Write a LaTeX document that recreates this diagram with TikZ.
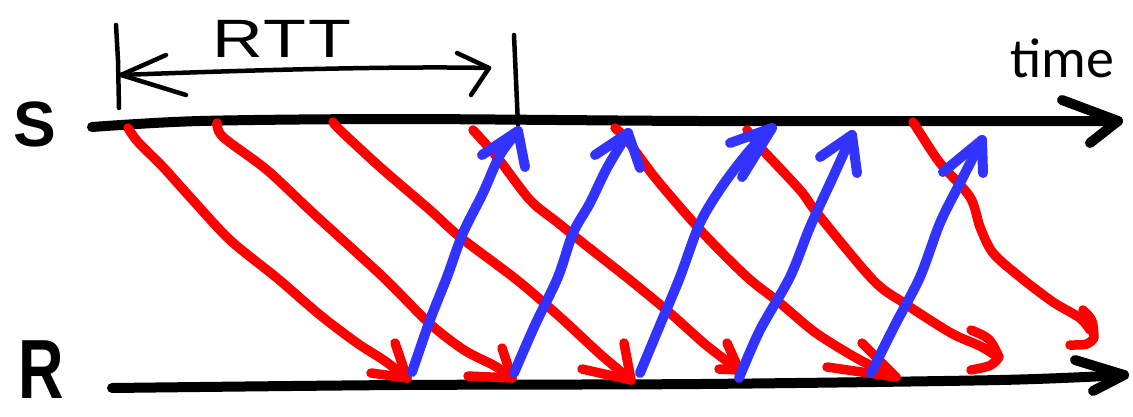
\documentclass[tikz,border=0pt]{standalone}
\usepackage{fontspec}
\newfontfamily\timefont{Carlito}
\newfontfamily\handfont{Liberation Sans}
\newfontfamily\handfontR[FakeStretch=0.75]{Liberation Sans}
\definecolor{penblue}{RGB}{51,51,255}
\definecolor{penred}{RGB}{255,0,0}
\tikzset{
  axisline/.style={line width=10pt, line cap=round, line join=round, black},
  thinline/.style={line width=4.5pt, line cap=round, line join=round, black},
  redpen/.style={line width=9.5pt, penred, line cap=round, line join=round},
  bluepen/.style={line width=10pt, penblue, line cap=round, line join=round},
}
\begin{document}
\begin{tikzpicture}[x=1pt,y=-1pt]
\useasboundingbox (0,0) rectangle (1133,416);

% labels
\node[font=\handfont\bfseries\fontsize{64}{64}\selectfont, inner sep=0, anchor=base] (S) at (35,146) {S};
\node[font=\handfontR\bfseries\fontsize{84}{84}\selectfont, inner sep=0, anchor=base] (R) at (41,398) {R};
\node[font=\timefont\fontsize{56}{56}\selectfont, inner sep=0, anchor=base] (time) at (1062,77) {time};
\node[font=\handfont\fontsize{54}{54}\selectfont\addfontfeature{FakeStretch=1.3,LetterSpace=4}, inner sep=0, anchor=base west] (rtt) at (212,57) {RTT};

% time axes
\draw[axisline] plot[smooth] coordinates {(92,127) (200,121) (400,119) (700,121) (1000,121) (1118,121)};
\draw[axisline] (1062,100) -- (1118,121) -- (1090,143);
\draw[axisline] plot[smooth] coordinates {(112,388) (400,385) (700,384) (1000,380) (1124,375)};
\draw[axisline] (1075,360) -- (1124,375) -- (1093,391);

% RTT marker
\draw[thinline] (116,25) -- (118,60) -- (119,108);
\draw[thinline] (514,35) -- (516,80) -- (518,125);
\draw[thinline] (121,75) .. controls (250,70) and (400,66) .. (489,68);
\draw[thinline] (166,55) -- (121,75) -- (186,95);
\draw[thinline] (457,53) -- (489,68) -- (471,95);

% red (data) arrows
\draw[redpen] plot[smooth] coordinates {(128,128) (138,142) (163,167) (190,197) (230,240) (277,278) (320,315) (357,343) (385,361) (407,378)};
\draw[redpen] (371,373) -- (407,378) -- (395,343);
\draw[redpen] plot[smooth] coordinates {(217,123) (223,137) (267,170) (313,213) (383,277) (429,323) (464,350) (495,366) (512,378)};
\draw[redpen] (468,376) -- (512,378) -- (502,348);
\draw[redpen] plot[smooth] coordinates {(333,122) (340,130) (380,167) (430,210) (460,237) (517,280) (560,317) (600,354) (631,380)};
\draw[redpen] (582,369) -- (631,380) -- (624,343);
\draw[redpen] plot[smooth] coordinates {(473,130) (497,157) (530,200) (557,222) (583,243) (630,280) (670,313) (706,345) (739,370)};
\draw[redpen] (719,369) -- (739,370) -- (727,343);
\draw[redpen] plot[smooth] coordinates {(615,128) (627,140) (657,180) (703,233) (747,277) (780,303) (816,333) (860,360) (896,377)};
\draw[redpen] (827,367) -- (896,377) -- (862,343);
\draw[redpen] plot[smooth] coordinates {(747,130) (760,147) (800,190) (817,213) (873,280) (904,303) (951,333) (980,346) (998,357)};
\draw[redpen] (971,330) .. controls (990,338) .. (999,357) .. controls (992,366) .. (971,370);
\draw[redpen] plot[smooth] coordinates {(913,122) (920,133) (940,163) (970,197) (980,227) (993,253) (1020,277) (1053,302) (1080,318) (1090,330)};
\draw[redpen] (1083,310) .. controls (1093,320) .. (1094,338) .. controls (1088,345) .. (1070,345);

% blue (ack) arrows
\draw[bluepen] plot[smooth] coordinates {(412,372) (430,320) (447,277) (463,233) (483,193) (500,155) (518,131)};
\draw[bluepen] (482,155) -- (518,131) -- (525,167);
\draw[bluepen] plot[smooth] coordinates {(514,373) (535,325) (558,277) (573,233) (590,203) (607,168) (628,133)};
\draw[bluepen] (595,155) -- (628,133) -- (640,168);
\draw[bluepen] plot[smooth] coordinates {(640,373) (660,325) (680,277) (700,223) (723,185) (750,150) (772,128)};
\draw[bluepen] (730,143) -- (772,128) -- (742,177);
\draw[bluepen] plot[smooth] coordinates {(739,378) (760,330) (790,277) (810,227) (833,177) (852,135)};
\draw[bluepen] (820,157) -- (852,135) -- (857,173);
\draw[bluepen] plot[smooth] coordinates {(871,373) (895,325) (920,277) (940,223) (960,183) (982,140)};
\draw[bluepen] (943,172) -- (982,140) -- (983,173);
\end{tikzpicture}
\end{document}
